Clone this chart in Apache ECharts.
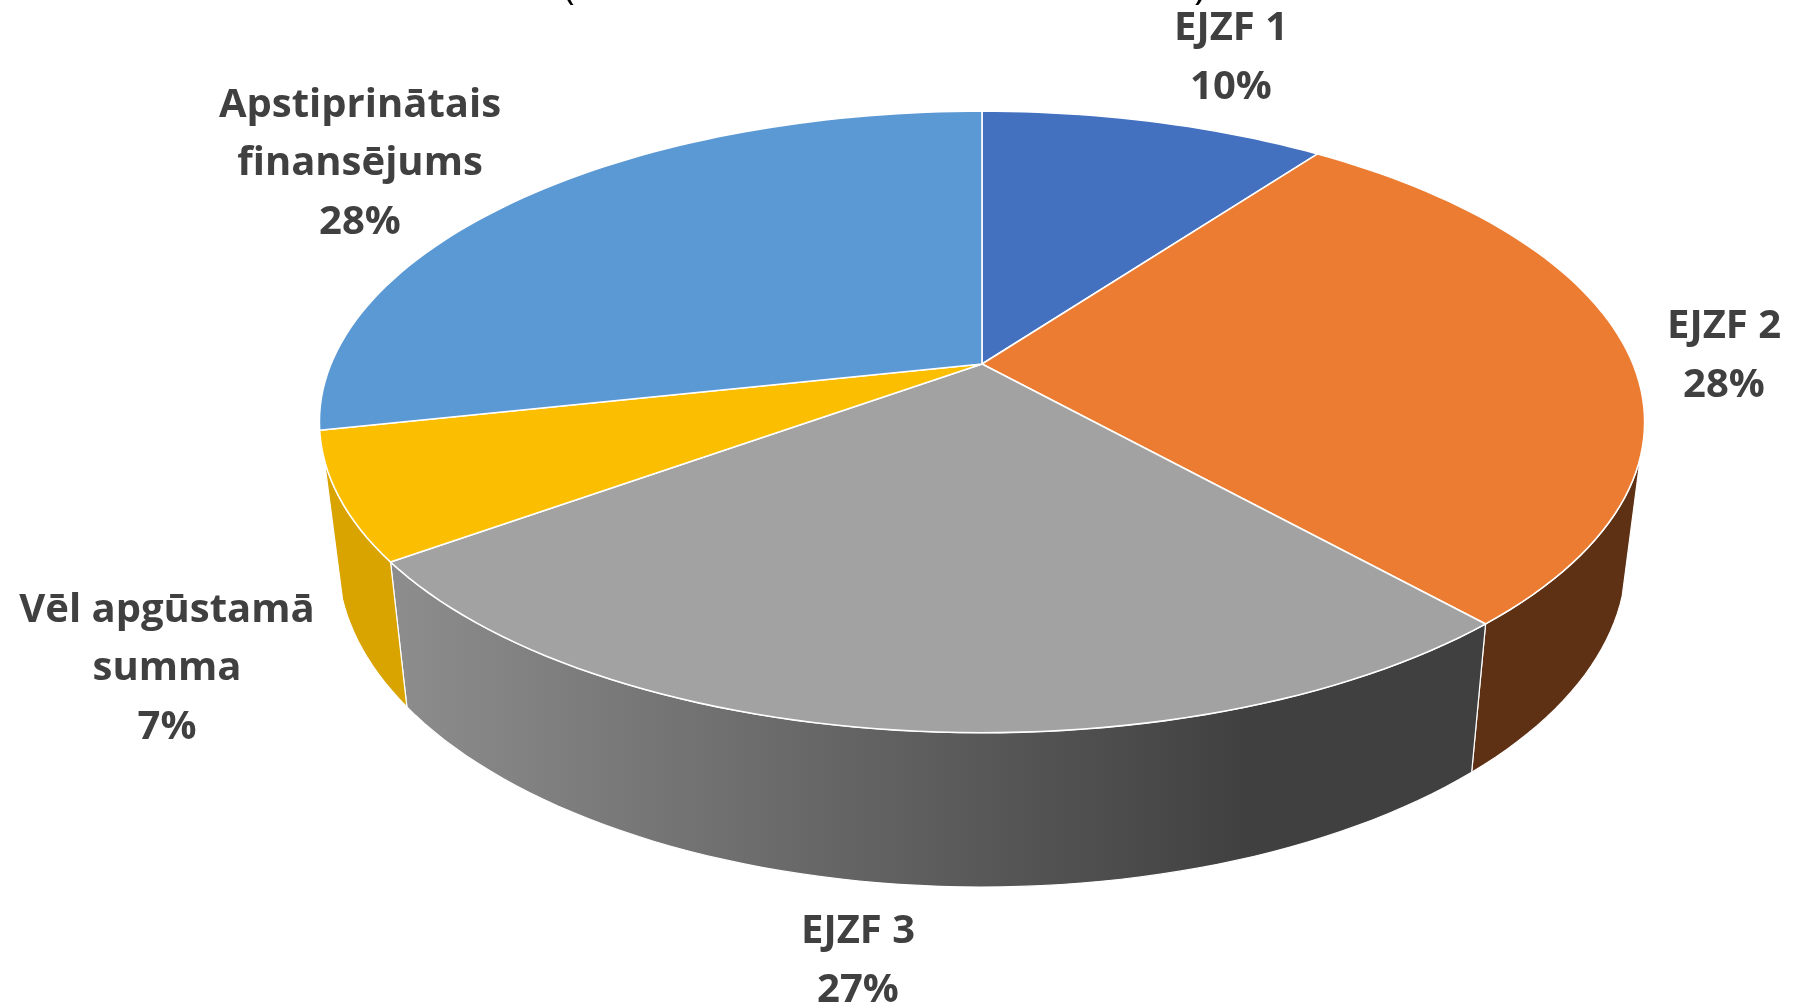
<!DOCTYPE html>
<html>
<head>
<meta charset="utf-8">
<title>Pie</title>
<script src="https://cdn.jsdelivr.net/npm/echarts@6/dist/echarts.min.js"></script>
<style>
  html, body { margin: 0; padding: 0; background: #fff; }
  #chart { width: 1794px; height: 1008px; }
</style>
</head>
<body>
<div id="chart"></div>
<script>
// data (start at 12 o'clock, clockwise)
const names = ['EJZF 1', 'EJZF 2', 'EJZF 3', 'Vēl apgūstamā\nsumma', 'Apstiprinātais\nfinansējums']
const values = [10.1, 28.3, 26.6, 6.6, 28.4]

const topColors = ['#4371c0', '#eb7c31', '#a2a2a2', '#fbbe00', '#5b99d4']
const sideColors = ['#2f5290', '#5f3114', null, '#d9a400', '#41719c']

// label block centres
const labelAt = [[1231, 58], [1724, 356], [858, 961], [167, 669], [360, 164]]

// the pie is a circle under a perspective projection
const K = 0.1864
const topDisc = { cx: 982, cy: 364, a: 651, b: 300 }
const baseDisc = { cx: 982, cy: 498, a: 633, b: 316.5 }
// only this part of the rim is visible as a wall (degrees)
const WALL_FROM = 107
const WALL_TO = 252.5

const total = values.reduce((s, v) => s + v, 0)
const starts = []
values.reduce((s, v, i) => {
  starts[i] = s
  return s + v / total * 360
}, 0)

function project(disc, deg) {
  const r = deg * Math.PI / 180
  const w = 1 + K * Math.cos(r)
  return [disc.cx + disc.a * Math.sin(r) / w, disc.cy - disc.b * Math.cos(r) / w]
}

function arc(disc, from, to) {
  const pts = []
  const n = Math.max(2, Math.ceil((to - from) / 1.5))
  for (let i = 0; i <= n; i++) pts.push(project(disc, from + (to - from) * i / n))
  return pts
}

const grayWall = new echarts.graphic.LinearGradient(405, 0, 1250, 0, [
  { offset: 0, color: '#8c8c8c' },
  { offset: 1, color: '#404040' },
], true)

function renderWall(params) {
  const i = params.dataIndex
  const from = Math.max(starts[i], WALL_FROM)
  const to = Math.min(starts[i] + values[i] / total * 360, WALL_TO)
  if (to <= from) return { type: 'group', children: [] }
  const points = arc(topDisc, from, to).concat(arc(baseDisc, from, to).reverse())
  return {
    type: 'polygon',
    shape: { points },
    style: { fill: sideColors[i] || grayWall, stroke: '#fff', lineWidth: 1.2, lineJoin: 'round' },
  }
}

function renderTop(params) {
  const i = params.dataIndex
  const to = starts[i] + values[i] / total * 360
  const points = [[topDisc.cx, topDisc.cy]].concat(arc(topDisc, starts[i], to))
  return {
    type: 'polygon',
    shape: { points },
    style: { fill: topColors[i], stroke: '#fff', lineWidth: 1.6, lineJoin: 'round' },
  }
}

function renderLabel(params) {
  const i = params.dataIndex
  return {
    type: 'text',
    style: {
      x: labelAt[i][0],
      y: labelAt[i][1],
      text: names[i] + '\n' + Math.round(values[i] / total * 100) + '%',
      align: 'center',
      verticalAlign: 'middle',
      font: 'bold 40px "Open Sans"',
      lineHeight: 58.5,
      fill: '#404040',
    },
  }
}

const chart = echarts.init(document.getElementById('chart'), null, { renderer: 'canvas' })

chart.setOption({
  animation: false,
  backgroundColor: '#fff',
  // only the foot of the brackets of the title is inside the picture
  graphic: [
    { type: 'text', silent: true, style: { x: 569, y: 8, text: '(', align: 'center', verticalAlign: 'bottom', font: '40px "Open Sans"', fill: '#000' } },
    { type: 'text', silent: true, style: { x: 1200, y: 8, text: ')', align: 'center', verticalAlign: 'bottom', font: '40px "Open Sans"', fill: '#000' } },
  ],
  series: [
    { type: 'custom', silent: true, z: 1, coordinateSystem: 'none', data: values, renderItem: renderWall },
    { type: 'custom', silent: true, z: 2, coordinateSystem: 'none', data: values, renderItem: renderTop },
    { type: 'custom', silent: true, z: 3, coordinateSystem: 'none', data: values, renderItem: renderLabel },
  ],
})

window.addEventListener('resize', () => chart.resize())
</script>
</body>
</html>
